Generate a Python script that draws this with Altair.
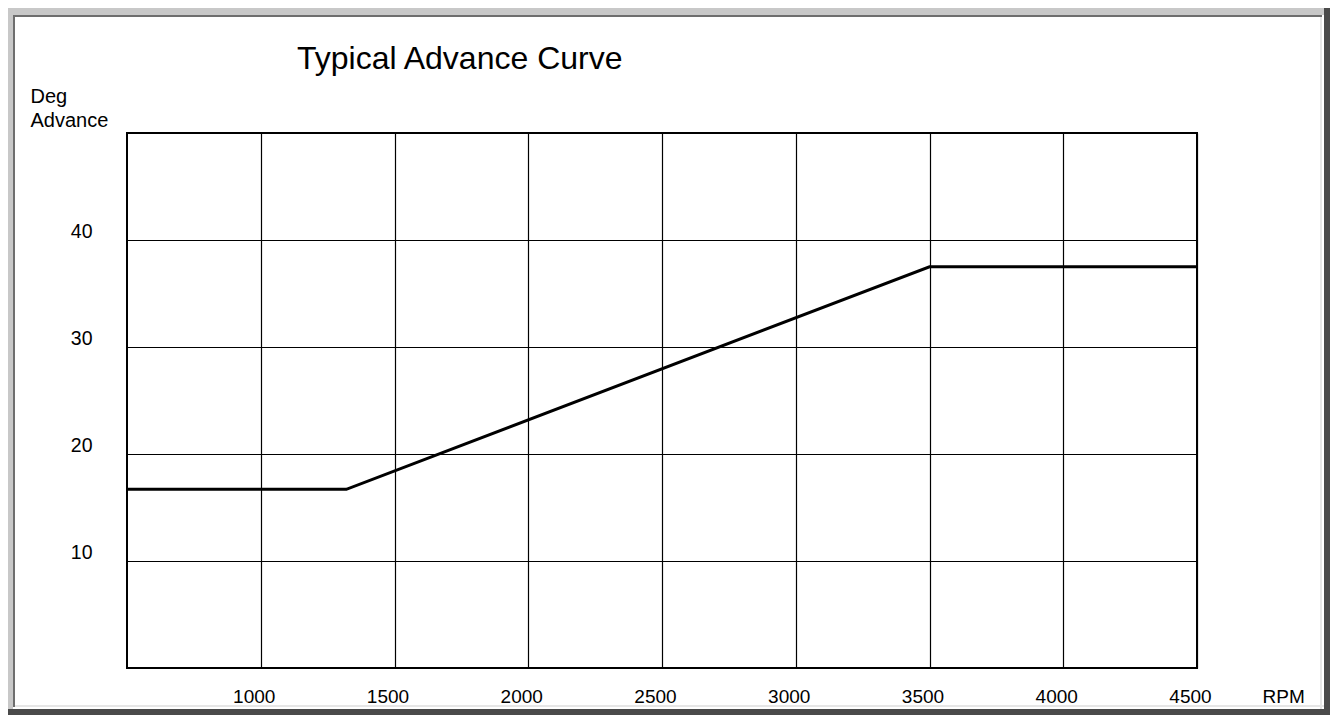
import altair as alt
import pandas as pd

# ---- data ----
rpm = [500, 1320, 3500, 4500]
deg = [16.7, 16.7, 37.5, 37.5]
x_ticks = [1000, 1500, 2000, 2500, 3000, 3500, 4000, 4500]
y_ticks = [10, 20, 30, 40]
title_text = "Typical Advance Curve"
y_title = ["Deg", "Advance"]
x_title = "RPM"

FONT = "Liberation Sans, Arial, sans-serif"

df = pd.DataFrame({"rpm": rpm, "deg": deg})

# layout (chart coords)
PL, PT = 119, 125          # plot origin inside chart
W, H = 1070, 535           # plot size
CW, CH = 1322, 707         # whole chart size

x_enc = alt.X(
    "rpm:Q",
    scale=alt.Scale(domain=[500, 4500], nice=False, zero=False),
    axis=alt.Axis(
        values=x_ticks, format="d", title=x_title,
        titleX=1135, titleY=34, titleAlign="left", titleBaseline="alphabetic",
        titleAngle=0, titleFontSize=19, titleFont=FONT, titleFontWeight="normal",
        titleColor="black",
        labelAlign="center", labelBaseline="alphabetic", labelPadding=34, labelOffset=-7,
        labelFontSize=19, labelFont=FONT, labelColor="black",
        labelFlush=False, labelOverlap=False, labelBound=False,
        ticks=False, domain=False, grid=True,
    ),
)
y_enc = alt.Y(
    "deg:Q",
    scale=alt.Scale(domain=[0, 50], nice=False, zero=True),
    axis=alt.Axis(
        values=y_ticks, format="d", title=y_title,
        titleX=-97, titleY=-31, titleAngle=0, titleAlign="left",
        titleBaseline="alphabetic", titleLineHeight=24, titleFontSize=20,
        titleFont=FONT, titleFontWeight="normal", titleColor="black",
        labelAlign="right", labelBaseline="alphabetic", labelPadding=35,
        labelOffset=-3, labelFontSize=19.5, labelFont=FONT, labelColor="black",
        labelFlush=False, labelOverlap=False, labelBound=False,
        ticks=False, domain=False, grid=True,
    ),
)

line = alt.Chart(df).mark_line(color="black", strokeWidth=3, strokeJoin="miter").encode(
    x=x_enc, y=y_enc
)

title_mark = alt.Chart(alt.Data(values=[{"t": title_text}])).mark_text(
    align="left", baseline="alphabetic", fontSize=32, font=FONT, color="black"
).encode(text="t:N", x=alt.value(170), y=alt.value(-64))

# window-like bevelled frame (chart coords -> plot-relative)
frame_parts = [
    (0, CW, 0, 7, "#c8c8c8"),
    (0, 5, 0, CH, "#c8c8c8"),
    (5, CW - 8, 7, 9, "#6e6e6e"),
    (5, 7, 7, CH - 8, "#6e6e6e"),
    (CW - 10, CW - 8, 9, CH - 6, "#e6e6e6"),
    (7, CW - 6, CH - 10, CH - 8, "#e6e6e6"),
    (CW - 6, CW, 0, CH, "#4a4a4a"),
    (0, CW, CH - 6, CH, "#4a4a4a"),
]
frame_layers = []
for (a, b, c, d, col) in frame_parts:
    frame_layers.append(
        alt.Chart(alt.Data(values=[{"k": 1}])).mark_rect(color=col).encode(
            x=alt.value(a - PL), x2=alt.value(b - PL),
            y=alt.value(c - PT), y2=alt.value(d - PT),
        )
    )

chart = alt.layer(line, title_mark, *frame_layers).properties(
    width=W, height=H,
    autosize=alt.AutoSizeParams(type="none"),
    padding={"left": PL, "top": PT, "right": CW - PL - W, "bottom": CH - PT - H},
    background="white",
).configure_view(
    stroke="black", strokeWidth=2, fill="white"
).configure_axis(
    gridColor="black", gridWidth=1.2, gridOpacity=1
)

chart.save("out.html", embed_options={"renderer": "svg", "actions": False})
